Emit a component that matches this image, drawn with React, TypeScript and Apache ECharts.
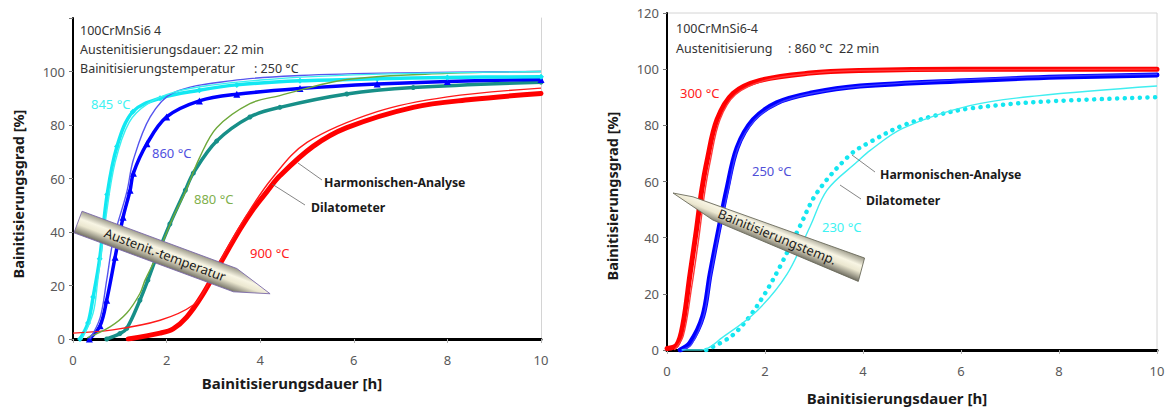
import React, { useEffect, useRef } from "react";
import * as echarts from "echarts";

// ---------- Left chart: 100CrMnSi6 4, Bainitisierung 250 °C ----------
const c845HarmT = [0.15, 0.32, 0.43, 0.57, 0.73, 0.94, 1.28, 1.86, 2.7, 3.5, 4.85, 6.5, 8, 10];
const c845HarmV = [0, 6, 15.7, 30, 54, 72, 85, 90, 93, 95, 96.5, 97.3, 97.8, 98];
const c845DilT = [0.19, 0.43, 0.53, 0.7, 0.9, 1.2, 1.6, 2.2, 3, 4, 5, 7, 10];
const c845DilV = [0, 9.7, 22, 45, 66, 81, 88, 92.5, 95, 96.8, 98, 99.2, 100];
const b860HarmT = [0.35, 0.58, 0.72, 0.9, 1.07, 1.22, 1.29, 1.58, 2, 2.7, 3.5, 4.85, 6.5, 8, 10];
const b860HarmV = [0, 5, 14.5, 30.6, 45.5, 55.6, 62, 73, 83, 89, 91.5, 93.6, 95.3, 96.3, 97];
const b860DilT = [0.36, 0.58, 0.72, 0.86, 1.15, 1.29, 1.65, 2.14, 3.4, 4.85, 7, 10];
const b860DilV = [0, 8, 22, 37, 55, 67, 83, 92, 96.6, 98.5, 99.5, 100];
const t880HarmT = [0.72, 1.0, 1.15, 1.43, 1.6, 1.79, 2.07, 2.4, 2.57, 3.07, 3.78, 4.42, 5.85, 7.27, 10];
const t880HarmV = [0, 2, 4, 14.5, 22, 31, 43, 55.6, 62, 74, 83, 86.6, 91.6, 94, 96];
const g880DilT = [0.3, 0.79, 1.15, 1.43, 1.54, 1.79, 2.14, 2.4, 2.71, 3.07, 3.78, 4.42, 5.85, 8, 10];
const g880DilV = [0.4, 4.5, 9.7, 17, 22, 31, 45.5, 55, 68, 79, 88, 91, 97, 99.3, 100];
const r900HarmT = [1.18, 1.86, 2.14, 2.43, 2.75, 3.14, 3.57, 3.85, 4.14, 4.42, 5.13, 5.85, 7.27, 8.5, 10];
const r900HarmV = [0, 2.2, 3.8, 8.2, 16, 28, 41, 48.5, 55, 61, 72, 79, 86.6, 89.5, 91.8];
const r900DilT = [0, 0.85, 1.86, 2.57, 2.85, 3.2, 3.7, 4.25, 5.0, 6.5, 8, 10];
const r900DilV = [2.2, 3.4, 7, 12.7, 19.4, 31, 46, 60, 73.5, 85, 90.5, 93.8];

// ---------- Right chart: 100CrMnSi6-4, Austenitisierung 860 °C 22 min ----------
const r300HarmT = [0, 0.2, 0.33, 0.47, 0.6, 0.71, 0.82, 1.02, 1.35, 1.9, 2.92, 3.94, 6, 8, 10];
const r300HarmV = [0.5, 1.8, 9.6, 27, 42.7, 57, 67.6, 82, 91.4, 96, 98.6, 99.5, 100, 100, 100];
const r300DilT = [0.15, 0.33, 0.5, 0.65, 0.76, 0.88, 1.08, 1.4, 2, 3, 4, 10];
const r300DilV = [0, 5, 22, 40, 55, 67, 82, 91, 96, 98.6, 99.5, 100];
const b250HarmT = [0.27, 0.47, 0.73, 0.88, 1.08, 1.22, 1.43, 1.76, 2.24, 2.92, 3.94, 6.2, 8, 10];
const b250HarmV = [0, 2.5, 12, 27, 45, 57, 72, 82, 88, 91.4, 94, 96, 97.2, 97.9];
const b250DilT = [0.3, 0.5, 0.75, 0.9, 1.1, 1.25, 1.45, 1.8, 2.3, 3, 4, 6, 8, 10];
const b250DilV = [0, 2, 12, 27, 45, 57, 72, 82, 88, 91.5, 94, 96.2, 97.5, 98.2];
const c230HarmT = [0.8, 1.29, 1.63, 1.96, 2.3, 2.71, 3.06, 3.73, 4.14, 4.82, 5.5, 6.18, 7.55, 10];
const c230HarmV = [0, 4.6, 10.7, 19, 29.5, 44, 56, 69.4, 74, 80, 83.6, 86, 88.3, 90];
const c230DilT = [0.3, 0.7, 1.14, 1.84, 2.45, 2.92, 3.27, 3.88, 4.14, 4.82, 6.18, 7.55, 10];
const c230DilV = [0, 0, 4.6, 14, 27, 44, 57, 67, 71, 79, 87, 90.5, 94];

const pairs = (t: number[], v: number[]) => t.map((x, i) => [x, v[i]]);

const FONT = "'Noto Sans', 'DejaVu Sans', sans-serif";

function thick(name: string, xi: number, t: number[], v: number[], color: string, width: number, symbol: string, size: number, dash?: any) {
  return {
    type: "line", name, xAxisIndex: xi, yAxisIndex: xi, data: pairs(t, v), smooth: 0.35,
    showSymbol: symbol !== "none", symbol, symbolSize: size,
    itemStyle: { color }, lineStyle: { color, width, type: dash || "solid", cap: "round" },
    silent: true, z: 2,
  };
}
function thin(name: string, xi: number, t: number[], v: number[], color: string) {
  return {
    type: "line", name, xAxisIndex: xi, yAxisIndex: xi, data: pairs(t, v), smooth: 0.35,
    showSymbol: false, lineStyle: { color, width: 1.4 }, silent: true, z: 3,
  };
}

function txt(x: number, y: number, text: string, color: string, size = 12, bold = false, align = "left") {
  return {
    type: "text", x, y, silent: true, z: 120,
    style: { text, fill: color, fontSize: size, fontFamily: FONT, fontWeight: bold ? "bold" : "normal", align, verticalAlign: "middle" },
  };
}
function leader(x1: number, y1: number, x2: number, y2: number) {
  return { type: "line", silent: true, z: 120, shape: { x1, y1, x2, y2 }, style: { stroke: "#666", lineWidth: 0.8 } };
}
const arrowFill = {
  type: "linear", x: 0, y: 0, x2: 0, y2: 1,
  colorStops: [
    { offset: 0, color: "#9a9888" },
    { offset: 0.35, color: "#f8f5e4" },
    { offset: 0.6, color: "#ebe7d0" },
    { offset: 1, color: "#706e62" },
  ],
};

export default function App() {
  const ref = useRef<HTMLDivElement>(null);
  useEffect(() => {
    const chart = echarts.init(ref.current!, null, { renderer: "svg" });
    const xAxisBase = (gi: number) => ({
      type: "value", gridIndex: gi, min: 0, max: 10, interval: 2,
      axisLine: { show: true, onZero: false, lineStyle: { color: "#000", width: 3 } },
      axisTick: { show: true, length: 4, lineStyle: { color: "#b0b0b0" } },
      axisLabel: { color: "#595959", fontSize: 13, fontFamily: FONT, margin: 14 },
      splitLine: { show: false },
    });
    const yAxisBase = (gi: number, hideTop: boolean) => ({
      type: "value", gridIndex: gi, min: 0, max: 120, interval: 20,
      axisLine: { show: true, onZero: false, lineStyle: { color: "#000", width: 2 } },
      axisTick: { show: true, length: 4, lineStyle: { color: "#777" } },
      axisLabel: {
        color: "#595959", fontSize: 13, fontFamily: FONT, margin: 8,
        formatter: (v: number) => (hideTop && v === 120 ? "" : String(v)),
      },
      splitLine: { show: false },
    });
    chart.setOption({
      animation: false,
      backgroundColor: "#fff",
      grid: [
        { left: 73, top: 18, width: 468, height: 321, show: false },
        { left: 667, top: 13, width: 490, height: 337, show: true, borderColor: "#d4d4d4", borderWidth: 1, backgroundColor: "transparent" },
      ],
      xAxis: [xAxisBase(0), xAxisBase(1)],
      yAxis: [
        yAxisBase(0, true),
        yAxisBase(1, false),
        {
          type: "value", gridIndex: 0, position: "right", min: 0, max: 120, interval: 20,
          axisLine: { show: true, onZero: false, lineStyle: { color: "#d4d4d4", width: 1 } },
          axisTick: { show: false }, axisLabel: { show: false }, splitLine: { show: false },
        },
      ],
      series: [
        thick("900 °C Harmonischen-Analyse", 0, r900HarmT, r900HarmV, "#ff0000", 5, "none", 0),
        thick("880 °C Harmonischen-Analyse", 0, t880HarmT, t880HarmV, "#178f88", 3.5, "circle", 5),
        thick("860 °C Harmonischen-Analyse", 0, b860HarmT, b860HarmV, "#0000ff", 3.5, "triangle", 7),
        thick("845 °C Harmonischen-Analyse", 0, c845HarmT, c845HarmV, "#12e8f2", 3.5, "diamond", 6),
        thin("900 °C Dilatometer", 0, r900DilT, r900DilV, "#ff1a1a"),
        thin("880 °C Dilatometer", 0, g880DilT, g880DilV, "#6ea83a"),
        thin("860 °C Dilatometer", 0, b860DilT, b860DilV, "#5555ee"),
        thin("845 °C Dilatometer", 0, c845DilT, c845DilV, "#3af0f0"),
        thick("300 °C Harmonischen-Analyse", 1, r300HarmT, r300HarmV, "#ff0000", 5, "none", 0),
        thick("250 °C Harmonischen-Analyse", 1, b250HarmT, b250HarmV, "#0000ff", 5, "none", 0),
        thick("230 °C Harmonischen-Analyse", 1, c230HarmT, c230HarmV, "#14e6f0", 4.5, "none", 0, [0.1, 7.5]),
        thin("300 °C Dilatometer", 1, r300DilT, r300DilV, "#ff3a3a"),
        thin("250 °C Dilatometer", 1, b250DilT, b250DilV, "#3a3aff"),
        thin("230 °C Dilatometer", 1, c230DilT, c230DilV, "#40eef0"),
      ],
      graphic: [
        // axis titles
        txt(292, 383, "Bainitisierungsdauer [h]", "#1a1a1a", 15, true, "center"),
        txt(897, 398, "Bainitisierungsdauer [h]", "#1a1a1a", 15, true, "center"),
        { ...txt(18, 194, "Bainitisierungsgrad [%]", "#1a1a1a", 14.5, true, "center"), rotation: Math.PI / 2 },
        { ...txt(612, 196, "Bainitisierungsgrad [%]", "#1a1a1a", 14.5, true, "center"), rotation: Math.PI / 2 },
        // header texts
        txt(80, 30, "100CrMnSi6 4", "#333", 12.5),
        txt(80, 49, "Austenitisierungsdauer: 22 min", "#333", 12.5),
        txt(80, 68, "Bainitisierungstemperatur", "#333", 12.5),
        txt(254, 68, ": 250 °C", "#333", 12.5),
        txt(676, 28, "100CrMnSi6-4", "#333", 12.5),
        txt(676, 48, "Austenitisierung", "#333", 12.5),
        txt(788, 48, ": 860 °C  22 min", "#333", 12.5),
        // temperature labels
        txt(91, 104, "845 °C", "#3ef2f2", 13),
        txt(152, 153, "860 °C", "#5050e0", 13),
        txt(194, 199, "880 °C", "#7fb04c", 13),
        txt(250, 253, "900 °C", "#ff2020", 13),
        txt(680, 93, "300 °C", "#ff2020", 13),
        txt(752, 171, "250 °C", "#5050d8", 13),
        txt(822, 227, "230 °C", "#3ef2f2", 13),
        // method labels
        leader(298, 163, 322, 180),
        txt(324, 182, "Harmonischen-Analyse", "#1a1a1a", 12.3, true),
        leader(272, 184, 305, 205),
        txt(311, 207, "Dilatometer", "#1a1a1a", 12.3, true),
        leader(852, 155, 875, 172),
        txt(880, 174, "Harmonischen-Analyse", "#1a1a1a", 12.3, true),
        leader(840, 185, 861, 199),
        txt(866, 200, "Dilatometer", "#1a1a1a", 12.3, true),
        // arrows
        {
          type: "group", x: 78, y: 222, rotation: -0.358, z: 100,
          children: [
            {
              type: "polygon", silent: true, z: 100,
              shape: { points: [[0, -11.5], [165, -12], [205, 0], [170, 11], [0, 11.5]] },
              style: { fill: arrowFill, stroke: "#7a68a8", lineWidth: 0.8 },
            },
            {
              type: "text", x: 93, y: 0, silent: true, z: 101,
              style: { text: "Austenit.-temperatur", fill: "#1a1a1a", fontSize: 13, fontFamily: FONT, align: "center", verticalAlign: "middle" },
            },
          ],
        },
        {
          type: "group", x: 673, y: 193, rotation: -0.387, z: 100,
          children: [
            {
              type: "polygon", silent: true, z: 100,
              shape: { points: [[0, 0], [20, -4], [202, -12], [205, 12], [47, 10]] },
              style: { fill: arrowFill, stroke: "#6a6a5a", lineWidth: 0.8 },
            },
            {
              type: "text", x: 113, y: 1, silent: true, z: 101,
              style: { text: "Bainitisierungstemp.", fill: "#1a1a1a", fontSize: 13, fontFamily: FONT, align: "center", verticalAlign: "middle" },
            },
          ],
        },
      ],
    });
    return () => chart.dispose();
  }, []);
  return <div ref={ref} style={{ position: "fixed", left: 0, top: 0, width: 1169, height: 410, background: "#fff" }} />;
}
